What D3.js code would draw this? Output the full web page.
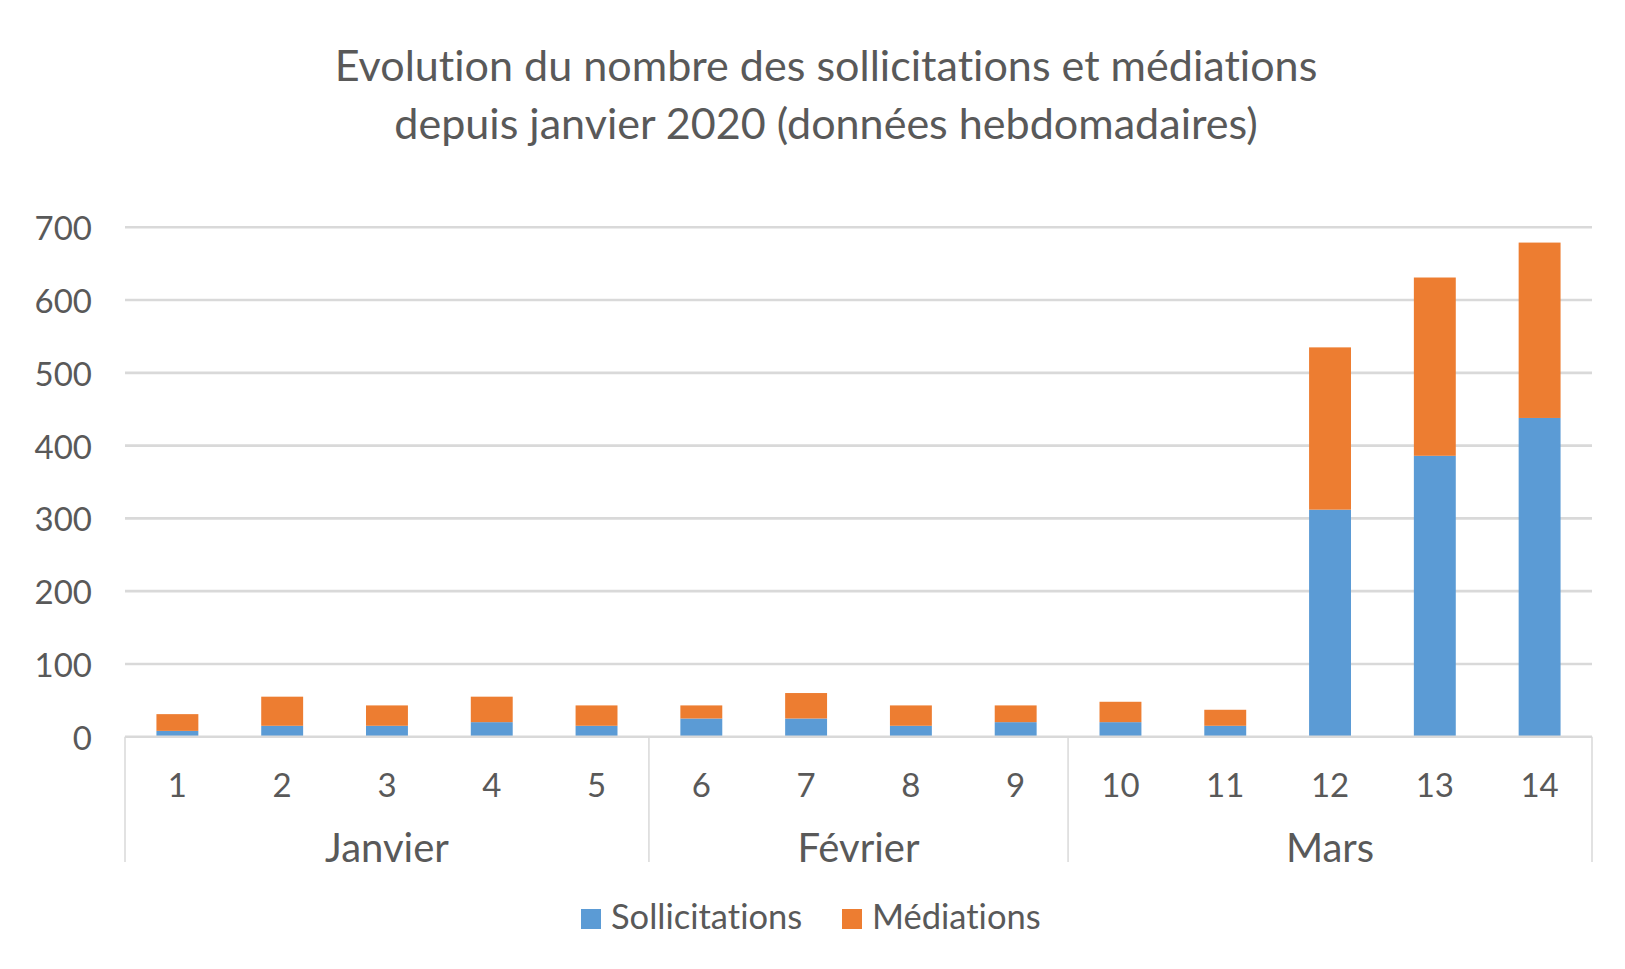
<!DOCTYPE html>
<html>
<head>
<meta charset="utf-8">
<script src="https://cdn.jsdelivr.net/npm/d3@7/dist/d3.min.js"></script>
<style>
  html, body { margin: 0; padding: 0; background: #ffffff; }
  svg { display: block; }
  text { font-family: Lato, "Open Sans", "Noto Sans", sans-serif; fill: #595959;
         font-variant-ligatures: none; font-feature-settings: "liga" 0, "clig" 0; }
</style>
</head>
<body>
<svg id="chart" width="1625" height="969"></svg>
<script>
// ---- Data ----
const weeks = ["1","2","3","4","5","6","7","8","9","10","11","12","13","14"];
const months = ["Janvier", "Février", "Mars"];
const monthWeeks = [["1","5"], ["6","9"], ["10","14"]];
const sollicitations = [8, 15, 15, 20, 15, 25, 25, 15, 20, 20, 15, 312, 386, 438];
const mediations = [23, 40, 28, 35, 28, 18, 35, 28, 23, 28, 22, 223, 245, 241];
const yTicks = [0, 100, 200, 300, 400, 500, 600, 700];
const seriesNames = ["Sollicitations", "Médiations"];
const titleLines = ["Evolution du nombre des sollicitations et médiations",
                    "depuis janvier 2020 (données hebdomadaires)"];

const colors = ["#5b9bd5", "#ed7d31"];

const svg = d3.select("#chart");
const W = 1625, H = 969;
svg.append("rect").attr("width", W).attr("height", H).attr("fill", "#fff");

const plot = {left: 125, right: 1592, top: 227.3, bottom: 736.7};

const x = d3.scaleBand().domain(weeks).range([plot.left, plot.right])
  .paddingInner(0.6).paddingOuter(0.3);
const y = d3.scaleLinear().domain([0, 700]).range([plot.bottom, plot.top]);

// Gridlines
svg.append("g").selectAll("line").data(yTicks.filter(d => d > 0)).join("line")
  .attr("x1", plot.left).attr("x2", plot.right)
  .attr("y1", d => y(d)).attr("y2", d => y(d))
  .attr("stroke", "#d9d9d9").attr("stroke-width", 2.6);

// Y labels
svg.append("g").selectAll("text").data(yTicks).join("text")
  .attr("x", 92).attr("y", d => y(d))
  .attr("text-anchor", "end").attr("dominant-baseline", "central")
  .style("font-size", "33px")
  .text(d => d);

// Stacked bars
const table = weeks.map((w, i) => ({week: w, Sollicitations: sollicitations[i], "Médiations": mediations[i]}));
const stacked = d3.stack().keys(seriesNames)(table);
svg.append("g").selectAll("g").data(stacked).join("g")
  .attr("fill", (d, i) => colors[i])
  .selectAll("rect").data(d => d).join("rect")
  .attr("x", d => x(d.data.week))
  .attr("width", x.bandwidth())
  .attr("y", d => y(d[1]))
  .attr("height", d => y(d[0]) - y(d[1]));

// Axis line
svg.append("line")
  .attr("x1", plot.left).attr("x2", plot.right)
  .attr("y1", plot.bottom).attr("y2", plot.bottom)
  .attr("stroke", "#d9d9d9").attr("stroke-width", 2.6);

// Category separators
const sepX = [plot.left];
monthWeeks.forEach(mw => sepX.push(x(mw[1]) + x.bandwidth() + x.step() * x.paddingInner() / 2));
sepX[sepX.length - 1] = plot.right;
svg.append("g").selectAll("line").data(sepX).join("line")
  .attr("x1", d => d).attr("x2", d => d)
  .attr("y1", plot.bottom).attr("y2", 862)
  .attr("stroke", "#d9d9d9").attr("stroke-width", 1.5);

// Week labels
svg.append("g").selectAll("text").data(weeks).join("text")
  .attr("x", d => x(d) + x.bandwidth() / 2).attr("y", 797)
  .attr("text-anchor", "middle")
  .style("font-size", "33px")
  .text(d => d);

// Month labels
svg.append("g").selectAll("text").data(months).join("text")
  .attr("x", (d, i) => (sepX[i] + sepX[i + 1]) / 2).attr("y", 862)
  .attr("text-anchor", "middle")
  .style("font-size", "40px")
  .text(d => d);

// Legend
const legendX = [581, 842];
const lg = svg.append("g").selectAll("g").data(seriesNames).join("g");
lg.append("rect")
  .attr("x", (d, i) => legendX[i]).attr("y", 909)
  .attr("width", 20).attr("height", 20)
  .attr("fill", (d, i) => colors[i]);
lg.append("text")
  .attr("x", (d, i) => legendX[i] + 30).attr("y", 929)
  .style("font-size", "34.5px")
  .text(d => d);

// Title
const titleY = [81, 139];
const titleEls = svg.append("g").selectAll("text").data(titleLines).join("text")
  .attr("x", 826).attr("y", (d, i) => titleY[i])
  .attr("text-anchor", "middle")
  .style("font-size", "40px")
  .text(d => d);
// fit first line width to ~983px
const first = titleEls.nodes()[0];
const w0 = first.getComputedTextLength();
const fs = 40 * 983 / w0;
titleEls.style("font-size", fs + "px");
</script>
</body>
</html>
